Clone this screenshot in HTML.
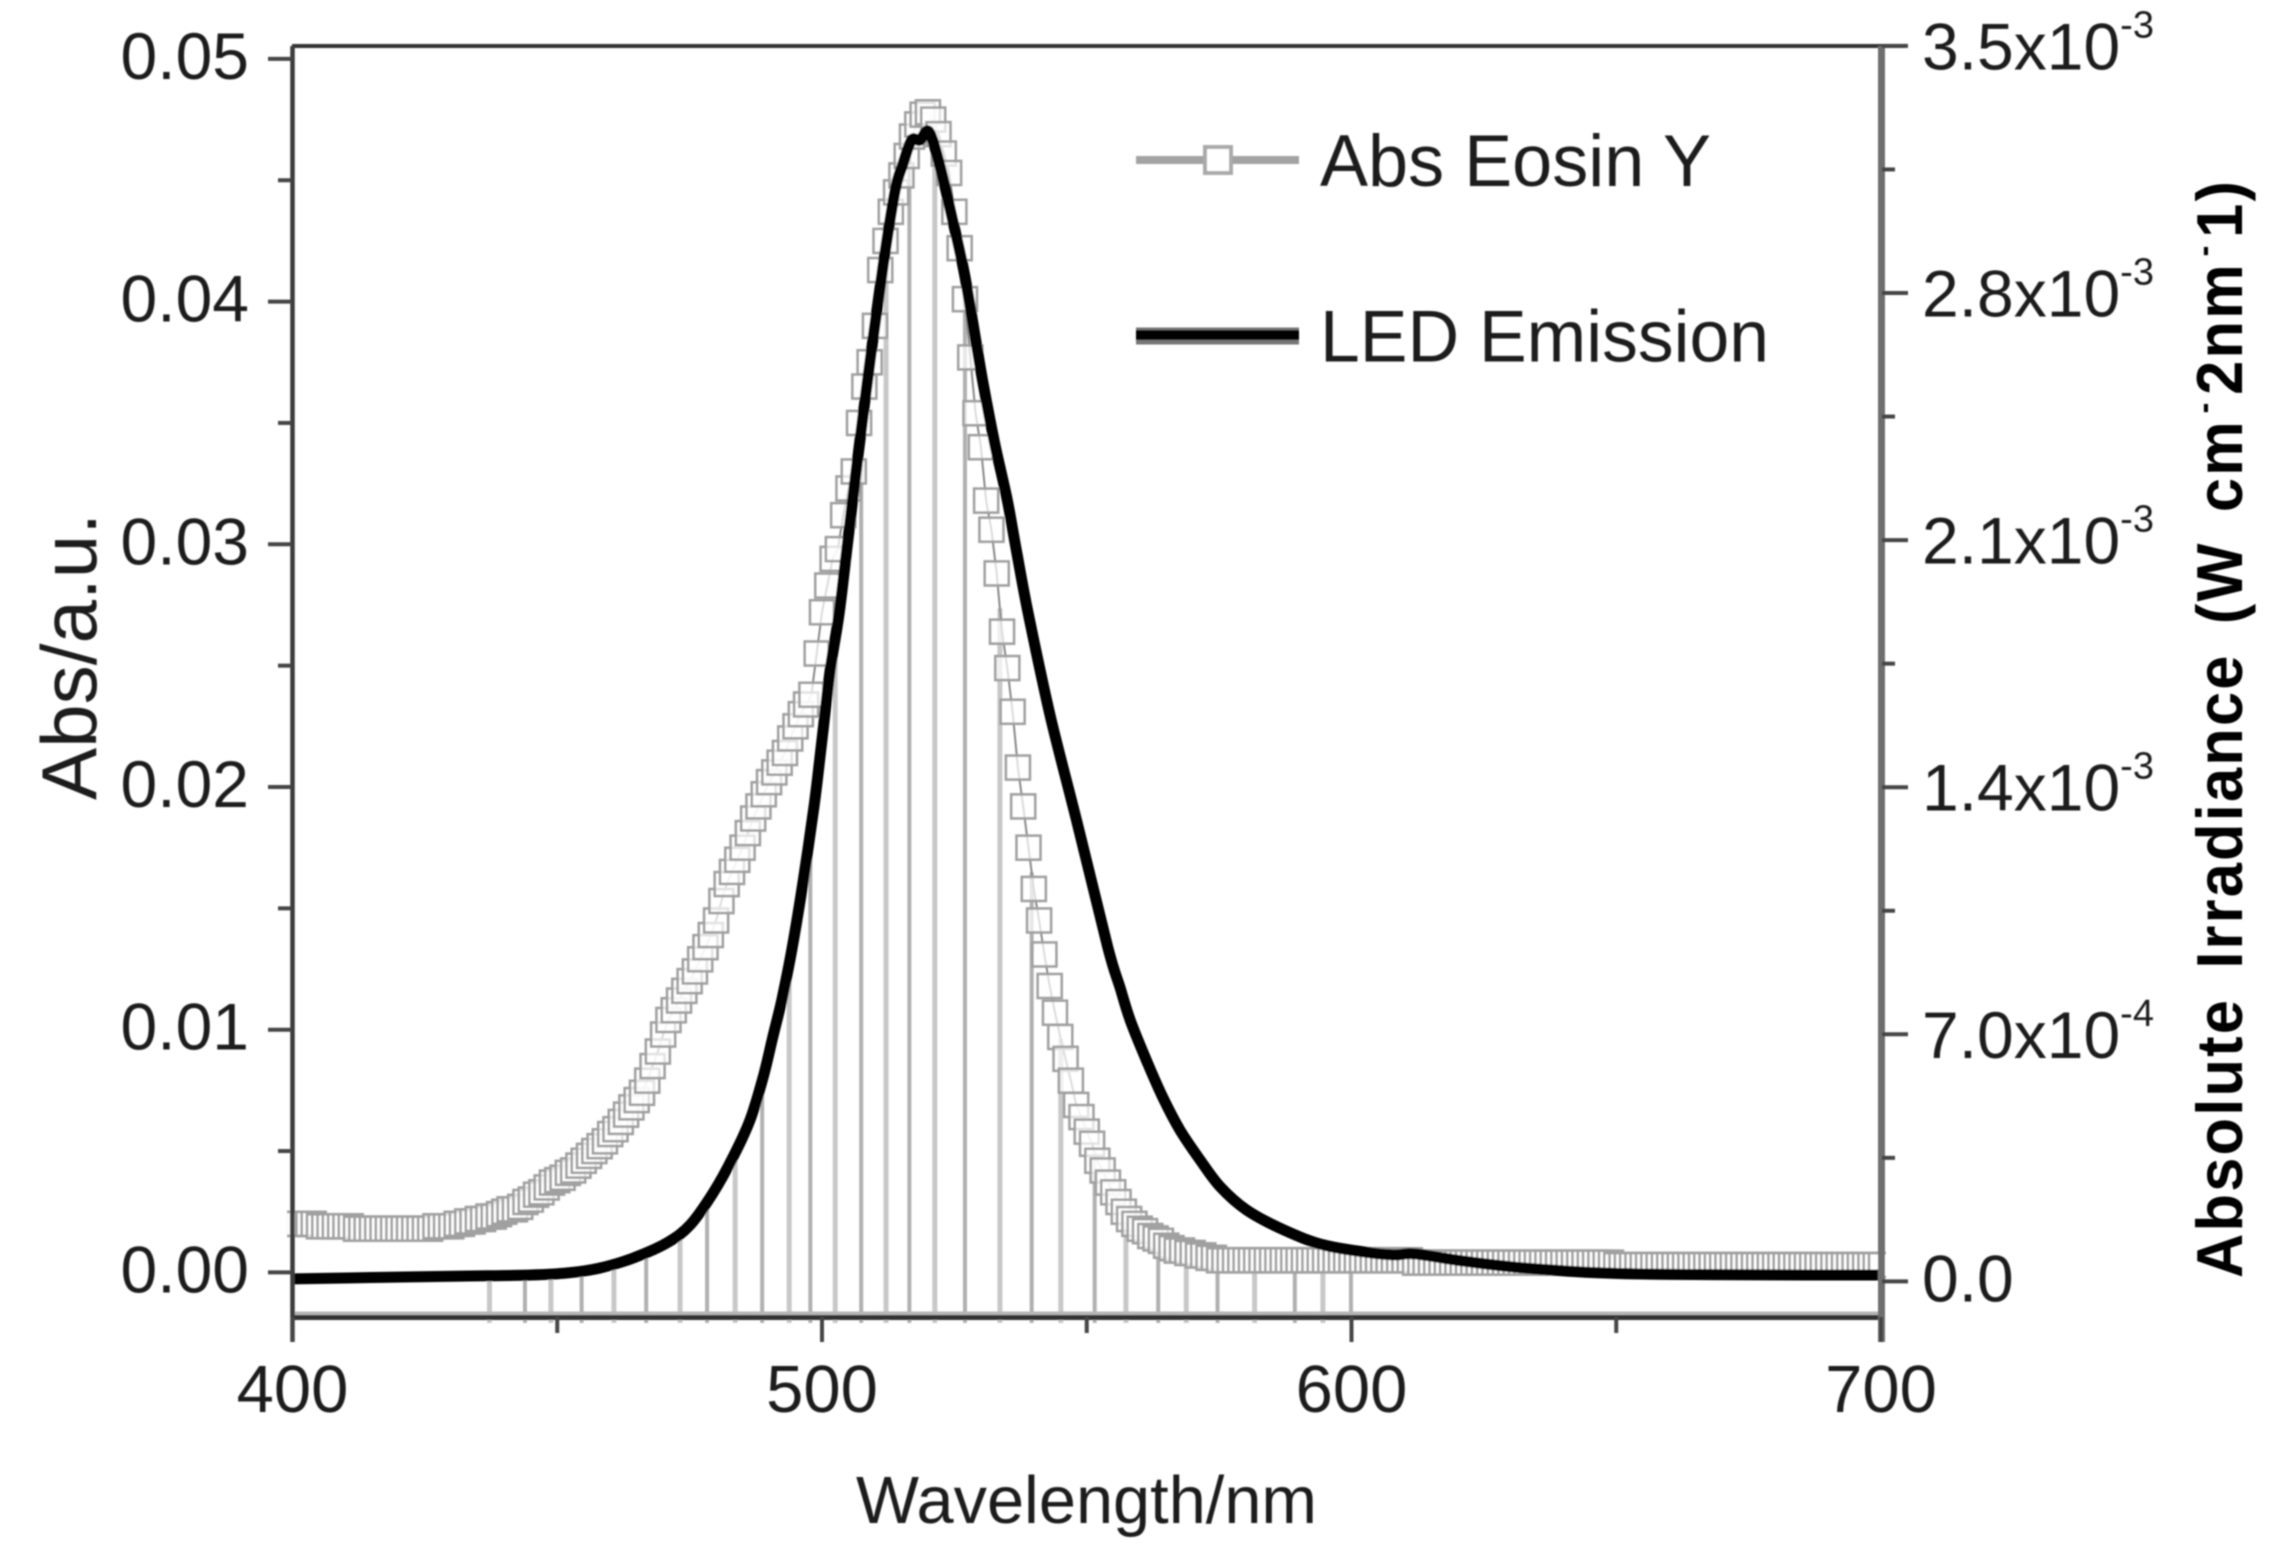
<!DOCTYPE html>
<html lang="en">
<head>
<meta charset="utf-8">
<title>Abs Eosin Y and LED Emission</title>
<style>
html,body{margin:0;padding:0;background:#fff;width:2279px;height:1562px;overflow:hidden}
svg{display:block}
text{font-family:"Liberation Sans",sans-serif;fill:#1f1f1f}
</style>
</head>
<body>
<svg id="chart" xmlns="http://www.w3.org/2000/svg" width="2279" height="1562" viewBox="0 0 2279 1562">
<defs>
<filter id="soft" x="-2%" y="-2%" width="104%" height="104%"><feGaussianBlur stdDeviation="0.9"/></filter>
<clipPath id="markerClip"><rect x="287" y="0" width="1599" height="1562"/></clipPath>
</defs>
<rect width="2279" height="1562" fill="#fff"/>
<g id="root" filter="url(#soft)">
<g id="drops"></g>
<path id="absLine" fill="none" stroke="#888" stroke-width="2"/>
<g id="markers" clip-path="url(#markerClip)"></g>
<path id="ledLine" fill="none" stroke="#000" stroke-width="11" stroke-linejoin="round"/>
<g id="axes"></g>
<text x="856" y="1523" font-size="67" textLength="461" lengthAdjust="spacingAndGlyphs">Wavelength/nm</text>
<text transform="translate(96,800) rotate(-90)" font-size="78" textLength="287" lengthAdjust="spacingAndGlyphs">Abs/a.u.</text>
<text transform="translate(2242,1278) rotate(-90) scale(0.945,1)" font-size="65" font-weight="700" word-spacing="10.6" letter-spacing="2.3" style="fill:#000">Absolute Irradiance (W cm<tspan font-size="34" dx="6" dy="-27">-</tspan><tspan dx="6" dy="27">2nm</tspan><tspan font-size="34" dx="6" dy="-27">-</tspan><tspan dx="6" dy="27">1)</tspan></text>
<g>
<line x1="1136" x2="1299" y1="160" y2="160" stroke="#a3a3a3" stroke-width="8"/>
<rect x="1205" y="147" width="26" height="26" fill="#fff" stroke="#aaa" stroke-width="4"/>
<text x="1320" y="186" font-size="73" textLength="391" lengthAdjust="spacingAndGlyphs">Abs Eosin Y</text>
<line x1="1136" x2="1299" y1="336" y2="336" stroke="#777" stroke-width="17"/>
<line x1="1136" x2="1299" y1="335" y2="335" stroke="#000" stroke-width="10"/>
<text x="1320" y="361.5" font-size="73" textLength="449" lengthAdjust="spacingAndGlyphs">LED Emission</text>
</g>
</g>
</svg>
<script>
// Absorbance, one value per nm starting at absStartNm
const absStartNm = 400;
const absValues = [
.0020,.0020,.0020,.0020,.0020,.0019,.0019,.0019,.0019,.0019,
.0019,.0019,.0018,.0018,.0018,.0018,.0018,.0018,.0018,.0018,
.0018,.0018,.0018,.0018,.0018,.0018,.0018,.0019,.0019,.0019,
.0019,.0020,.0020,.0021,.0021,.0022,.0022,.0023,.0023,.0024,
.0025,.0026,.0026,.0027,.0029,.0030,.0032,.0033,.0035,.0037,
.0038,.0039,.0041,.0042,.0044,.0046,.0048,.0050,.0052,.0054,
.0057,.0059,.0062,.0065,.0068,.0071,.0074,.0079,.0085,.0091,
.0098,.0104,.0108,.0112,.0116,.0120,.0124,.0129,.0134,.0139,
.0145,.0153,.0160,.0165,.0170,.0175,.0181,.0187,.0192,.0197,
.0202,.0206,.0210,.0214,.0220,.0225,.0230,.0234,.0238,.0255,
.0272,.0283,.0294,.0298,.0312,.0323,.0330,.0350,.0365,.0375,
.0390,.0413,.0425,.0437,.0445,.0452,.0460,.0468,.0473,.0477,
.0478,.0475,.0469,.0461,.0453,.0437,.0422,.0401,.0377,.0354,
.0340,.0318,.0306,.0288,.0264,.0249,.0231,.0208,.0192,.0175,
.0158,.0145,.0131,.0118,.0107,.0097,.0088,.0079,.0069,.0064,
.0058,.0053,.0046,.0042,.0037,.0033,.0029,.0025,.0022,.0020,
.0018,.0017,.0015,.0014,.0013,.0011,.0010,.0009,.0009,.0008,
.0008,.0007,.0007,.0006,.0006,.0005,.0005,.0005,.0005,.0005,
.0005,.0005,.0005,.0005,.0005,.0005,.0005,.0005,.0005,.0005,
.0005,.0005,.0005,.0005,.0005,.0005,.0005,.0005,.0005,.0005,
.0005,.0005,.0005,.0005,.0005,.0005,.0005,.0005,.0005,.0005,
.0005,.0005,.0004,.0004,.0004,.0004,.0004,.0004,.0004,.0004,
.0004,.0004,.0004,.0004,.0004,.0004,.0004,.0004,.0004,.0004,
.0004,.0004,.0004,.0004,.0004,.0004,.0004,.0004,.0004,.0004,
.0004,.0004,.0004,.0004,.0004,.0004,.0004,.0004,.0004,.0004,
.0003,.0003,.0003,.0003,.0003,.0003,.0003,.0003,.0003,.0003,
.0003,.0003,.0003,.0003,.0003,.0003,.0003,.0003,.0003,.0003,
.0003,.0003,.0003,.0003,.0003,.0003,.0003,.0003,.0003,.0003,
.0003,.0003,.0003,.0003,.0003,.0003,.0003,.0003,.0003,.0003,
.0003,.0003,.0003,.0003,.0003,.0003,.0003,.0003,.0003,.0003,.0003
];
// LED irradiance, in units of 10^-3 W cm-2 nm-1
const ledWavelengths = [400,415,432,445,452,458.1,464.3,470.7,475.1,479.4,483.2,486.4,488.9,490.7,492.4,494.3,496.4,498.5,499.8,501.5,503.2,504.6,506.7,509.1,511.6,513.8,515.3,516.9,518.5,520.2,522.3,524.7,527,530.2,532.6,535,536.8,539,543.2,548.3,554,556.3,558.2,561.3,564.4,567.6,571.4,575.2,580.2,587.2,594.8,604.1,608.5,612,621.8,635,655,700];
const ledValues = [.007,.011,.015,.018,.024,.038,.066,.109,.16,.25,.352,.457,.579,.692,.797,.939,1.129,1.347,1.508,1.726,1.888,2.064,2.327,2.61,2.884,3.09,3.166,3.233,3.233,3.257,3.158,3.005,2.846,2.563,2.375,2.213,2.063,1.888,1.596,1.293,.945,.832,.74,.625,.52,.429,.344,.268,.202,.146,.103,.08,.075,.078,.056,.035,.021,.018];
// Wavelengths carrying a drop line to the x axis
const dropWavelengths = [437.2,443.9,448.8,454.6,460.7,466.8,473.2,478.3,483.6,488.7,493.8,497.8,502.5,507.4,512.1,516.5,521.3,527,533.6,539.6,545.1,551.5,557.4,563.5,568.8,574.7,581.7,589.3,594.6,599.9];
// Axis ticks and labels
const xTicks = [400,500,600,700];
const xMinorTicks = [450,550,650];
const leftTicks = [0,0.01,0.02,0.03,0.04,0.05];
const leftTickLabels = ['0.00','0.01','0.02','0.03','0.04','0.05'];
const leftMinorTicks = [0.005,0.015,0.025,0.035,0.045];
const rightTicks = [0,0.7,1.4,2.1,2.8,3.5];
const rightTickMantissas = ['0.0','7.0x10','1.4x10','2.1x10','2.8x10','3.5x10'];
const rightTickExponents = ['','-4','-3','-3','-3','-3'];
const rightMinorTicks = [0.35,1.05,1.75,2.45,3.15];

const NS = 'http://www.w3.org/2000/svg';
function xScale(w){ return 292.5 + (w - 400) * 5.295; }
function yLeft(v){ return 1272.4 - v * 24270; }
function yRight(v){ return 1281.4 - v * 353; }
function make(tag, parent, attrs){
  const el = document.createElementNS(NS, tag);
  for (const k in attrs) el.setAttribute(k, attrs[k]);
  parent.appendChild(el);
  return el;
}
function interpLed(w){
  for (let i = 1; i < ledWavelengths.length; i++) {
    if (w <= ledWavelengths[i]) {
      const t = (w - ledWavelengths[i-1]) / (ledWavelengths[i] - ledWavelengths[i-1]);
      return ledValues[i-1] + t * (ledValues[i] - ledValues[i-1]);
    }
  }
  return ledValues[ledValues.length - 1];
}
function interpAbs(w){
  const p = w - absStartNm;
  const i = Math.max(0, Math.min(absValues.length - 2, Math.floor(p)));
  return absValues[i] + (p - i) * (absValues[i+1] - absValues[i]);
}
function smoothPath(pts){
  let d = 'M' + pts[0][0].toFixed(1) + ' ' + pts[0][1].toFixed(1);
  for (let i = 0; i < pts.length - 1; i++) {
    const p0 = pts[Math.max(0, i-1)], p1 = pts[i], p2 = pts[i+1], p3 = pts[Math.min(pts.length-1, i+2)];
    const c1x = p1[0] + (p2[0]-p0[0])/6, c1y = p1[1] + (p2[1]-p0[1])/6;
    const c2x = p2[0] - (p3[0]-p1[0])/6, c2y = p2[1] - (p3[1]-p1[1])/6;
    d += 'C' + c1x.toFixed(1) + ' ' + c1y.toFixed(1) + ' ' + c2x.toFixed(1) + ' ' + c2y.toFixed(1) + ' ' + p2[0].toFixed(1) + ' ' + p2[1].toFixed(1);
  }
  return d;
}

const dropsG = document.getElementById('drops');
dropWavelengths.forEach(function(w, i){
  const top = Math.max(yLeft(interpAbs(w)), yRight(interpLed(w)));
  const l = make('line', dropsG, {x1:xScale(w), x2:xScale(w), y1:top, y2:1323, stroke:i%2 ? '#b0b0b0' : '#c8c8c8', 'stroke-width':i%2 ? 4 : 5});
  
  
});

document.getElementById('absLine').setAttribute('d', absValues.map(function(v, i){
  return (i ? 'L' : 'M') + xScale(absStartNm + i).toFixed(1) + ' ' + yLeft(v).toFixed(1);
}).join(''));

const markersG = document.getElementById('markers');
const markerSize = 24;
absValues.forEach(function(v, i){
  const r = make('rect', markersG, {x:xScale(absStartNm + i) - markerSize/2, y:yLeft(v) - markerSize/2, width:markerSize, height:markerSize, fill:'#fff', 'fill-opacity':0.7, stroke:'#a0a0a0', 'stroke-width':2.6});
  
  
});

document.getElementById('ledLine').setAttribute('d', smoothPath(ledValues.map(function(v, i){
  return [xScale(ledWavelengths[i]), yRight(v)];
})));

const axes = document.getElementById('axes');
const frame = [
  ['top-axis-line', 292, 46, 1905, 46, '#333', 4],
  ['bottom-axis-halo', 292, 1315, 1881, 1315, '#b5b5b5', 7],
  ['bottom-axis-line', 292, 1317.5, 1881, 1317.5, '#333', 5],
  ['left-axis-line', 292.5, 46, 292.5, 1342, '#3a3a3a', 4.5],
  ['right-axis-line', 1881.5, 46, 1881.5, 1342, '#6e6e6e', 7]
];
frame.forEach(function(f){
  const l = make('line', axes, {x1:f[1], y1:f[2], x2:f[3], y2:f[4], stroke:f[5], 'stroke-width':f[6]});
  
  
});

xTicks.forEach(function(w){
  const x = xScale(w);
  const l = make('line', axes, {x1:x, x2:x, y1:1317, y2:1342, stroke:'#444', 'stroke-width':4});
  
  
  const t = make('text', axes, {x:x, y:1412, 'font-size':67, 'text-anchor':'middle'});
  t.textContent = String(w);
  
  
});
xMinorTicks.forEach(function(w){
  const x = xScale(w);
  const l = make('line', axes, {x1:x, x2:x, y1:1317, y2:1333, stroke:'#444', 'stroke-width':4});
  
  
});

leftTicks.forEach(function(v, i){
  const y = yLeft(v);
  const l = make('line', axes, {x1:268, x2:292, y1:y, y2:y, stroke:'#444', 'stroke-width':4});
  
  
  const t = make('text', axes, {x:249, y:y + 20, 'font-size':66, 'text-anchor':'end'});
  t.textContent = leftTickLabels[i];
  
  
});
leftMinorTicks.forEach(function(v){
  const y = yLeft(v);
  const l = make('line', axes, {x1:278, x2:292, y1:y, y2:y, stroke:'#444', 'stroke-width':4});
  
  
});

rightTicks.forEach(function(v, i){
  const y = yRight(v);
  const l = make('line', axes, {x1:1882, x2:1908, y1:y, y2:y, stroke:'#444', 'stroke-width':4});
  
  
  const t = make('text', axes, {x:1922, y:y + (rightTickExponents[i] ? 23.5 : 20), 'font-size':66});
  t.textContent = rightTickMantissas[i];
  
  
  if (rightTickExponents[i]) {
    const s = make('tspan', t, {'font-size':38, dy:-32});
    s.textContent = rightTickExponents[i];
    
    
  }
});
rightMinorTicks.forEach(function(v){
  const y = yRight(v);
  const l = make('line', axes, {x1:1882, x2:1895, y1:y, y2:y, stroke:'#444', 'stroke-width':4});
  
  
});
</script>
</body>
</html>
